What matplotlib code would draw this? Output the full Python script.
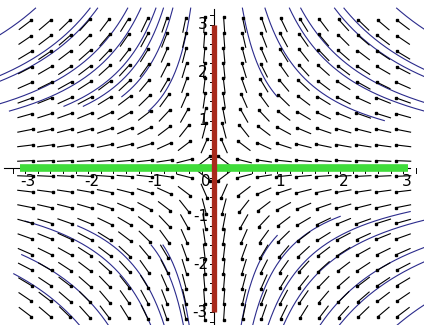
import numpy as np
import matplotlib
matplotlib.use("Agg")
import matplotlib.pyplot as plt

# saddle: x' = -x, y' = y
grid_x = np.linspace(-3, 3, 20)
grid_y = np.linspace(-3, 3, 20)

# trajectories x*y = c, drawn for |y| between ymin and the top
q1_c = [1.5, 2.7, 4.0, 4.6, 6.4, 6.9, 9.7]
q1_ymin = [1.5, 1.0, 1.0, 1.0, 1.8, 2.0, 2.8]
q2_c = [9.5, 6.6, 6.2, 4.6, 3.9, 3.1, 2.7, 2.2, 1.25]
q2_ymin = [2.1, 1.0, 1.0, 1.2, 1.2, 1.3, 1.3, 1.5, 1.2]
q3_c = [1.3, 1.6, 2.6, 3.3, 5.5, 7.0]
q3_ymin = [1.6, 1.6, 1.2, 1.1, 1.8, 2.2]
q4_c = [1.4, 2.0, 2.8, 3.6, 5.5, 6.5, 9.5]
q4_ymin = [1.4, 1.0, 0.9, 0.8, 1.4, 1.8, 2.8]

xmin, xmax = -3.40, 3.33
ymin, ymax = -3.27, 3.52
W, H = 424, 325
sx = W / (xmax - xmin)
sy = H / (ymax - ymin)

fig = plt.figure(figsize=(4.24, 3.25), dpi=100)
ax = fig.add_axes([0, 0, 1, 1])
ax.set_xlim(xmin, xmax)
ax.set_ylim(ymin, ymax)
ax.axis("off")

# axes lines with ticks
ax.plot([-3.33, 3.1], [0, 0], color="black", lw=0.8, zorder=2)
ax.plot([0, 0], [-3.27, 3.33], color="black", lw=0.8, zorder=2)
for t in np.arange(-3.2, 3.21, 0.2):
    ax.plot([t, t], [0, -0.1], color="black", lw=0.7, zorder=2)
    ax.plot([0, -0.07], [t, t], color="black", lw=0.7, zorder=2)
for k in [-3, -2, -1, 1, 2, 3]:
    ax.text(k + 0.05, -0.12, str(k), ha="center", va="top", fontsize=11)
    ax.text(-0.1, k, str(k), ha="right", va="center", fontsize=11)
ax.text(-0.05, -0.12, "0", ha="right", va="top", fontsize=11)

# trajectories
blue = "#2b2b8c"
for cs, ys, sgx, sgy in [(q1_c, q1_ymin, 1, 1), (q2_c, q2_ymin, -1, 1),
                         (q3_c, q3_ymin, -1, -1), (q4_c, q4_ymin, 1, -1)]:
    for c, y0 in zip(cs, ys):
        yy = np.linspace(y0, 3.35, 200)
        xx = c / yy
        ax.plot(sgx * xx, sgy * yy, color=blue, lw=0.8, zorder=3)

# direction field
L = 15.0
for gx in grid_x:
    for gy in grid_y:
        u, v = -gx, gy
        pu, pv = u * sx, v * sy
        n = np.hypot(pu, pv)
        if n == 0:
            continue
        dx = L * pu / n / sx / 2
        dy = L * pv / n / sy / 2
        ax.plot([gx - dx, gx + dx], [gy - dy, gy + dy], color="black", lw=0.8, zorder=4)
        ax.plot(gx + dx, gy + dy, marker="s", ms=2.0, color="black", zorder=5)

# eigen-lines
ax.plot([-3.08, 3.08], [0, 0], color="#3fdc3a", lw=5.5, solid_capstyle="butt", zorder=6)
ax.plot([0, 0], [-3.0, 3.0], color="#a82a1c", lw=3.8, solid_capstyle="butt", zorder=7)

fig.savefig("out.png", dpi=100)
